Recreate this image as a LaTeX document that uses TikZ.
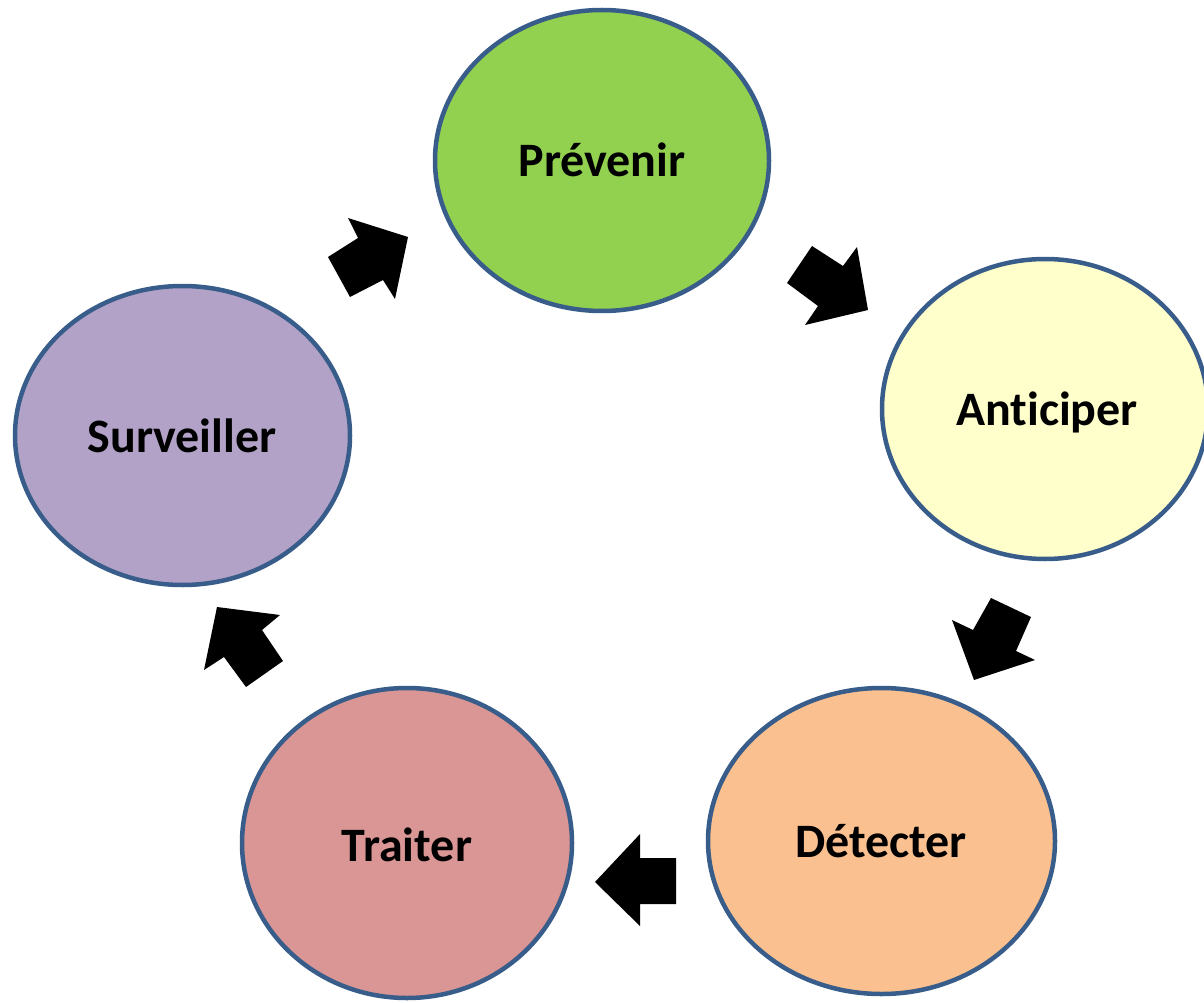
\documentclass[tikz,border=0pt]{standalone}
\usepackage{fontspec}
\setmainfont[Ligatures={NoCommon,NoRare}]{Carlito}
\usetikzlibrary{shapes.geometric}
\definecolor{edgeblue}{HTML}{385D8A}
\definecolor{cgreen}{HTML}{92D050}
\definecolor{cyellow}{HTML}{FFFFCC}
\definecolor{corange}{HTML}{FAC090}
\definecolor{cred}{HTML}{D99694}
\definecolor{cpurple}{HTML}{B3A2C7}
\tikzset{
  stage/.style={ellipse, draw=edgeblue, line width=4.5pt, inner sep=0pt},
  stagetext/.style={font=\fontsize{48}{57}\selectfont\bfseries, text=black, anchor=base, inner sep=0pt},
  blockarrow/.style={fill=black, draw=none}
}
\begin{document}
\begin{tikzpicture}[x=1pt,y=-1pt]
\useasboundingbox (0,0) rectangle (1204,1003);
\begin{scope}
\clip (0,0) rectangle (1204,1003);
\node[stage, fill=cgreen, minimum width=334pt, minimum height=301pt] (prev) at (602,160.5) {};
\node[stage, fill=cyellow, minimum width=326pt, minimum height=300pt] (anti) at (1045,409) {};
\node[stage, fill=corange, minimum width=347pt, minimum height=306pt] (dete) at (881.5,841) {};
\node[stage, fill=cred, minimum width=330pt, minimum height=310pt] (trai) at (407,843) {};
\node[stage, fill=cpurple, minimum width=335pt, minimum height=299pt] (surv) at (182.5,435.5) {};
\end{scope}
\node[stagetext] (tprev) at (602,177) {Prévenir};
\node[stagetext] (tanti) at (1047,425) {An{}ticiper};
\node[stagetext] (tdete) at (881,857) {Détecter};
\node[stagetext] (ttrai) at (407,861) {Traiter};
\node[stagetext] (tsurv) at (182,452) {Surveiller};
% block arrows
\fill[blockarrow] (812,246) -- (843,266) -- (857,247) -- (868,310) -- (805,325) -- (818,306) -- (787,283) -- cycle;
\fill[blockarrow] (991,598) -- (1031,617) -- (1016,651) -- (1035,660) -- (974,680) -- (952,620) -- (973,630) -- cycle;
\fill[blockarrow] (676,858) -- (676,904) -- (640,904) -- (640,926) -- (595,882) -- (640,834) -- (640,858) -- cycle;
\fill[blockarrow] (246,687) -- (283,661) -- (262,630) -- (280,615) -- (217,607) -- (204,670) -- (224,657) -- cycle;
\fill[blockarrow] (350,297) -- (328,257) -- (358,238) -- (348,218) -- (408,237) -- (395,299) -- (383,280) -- cycle;
\end{tikzpicture}
\end{document}
